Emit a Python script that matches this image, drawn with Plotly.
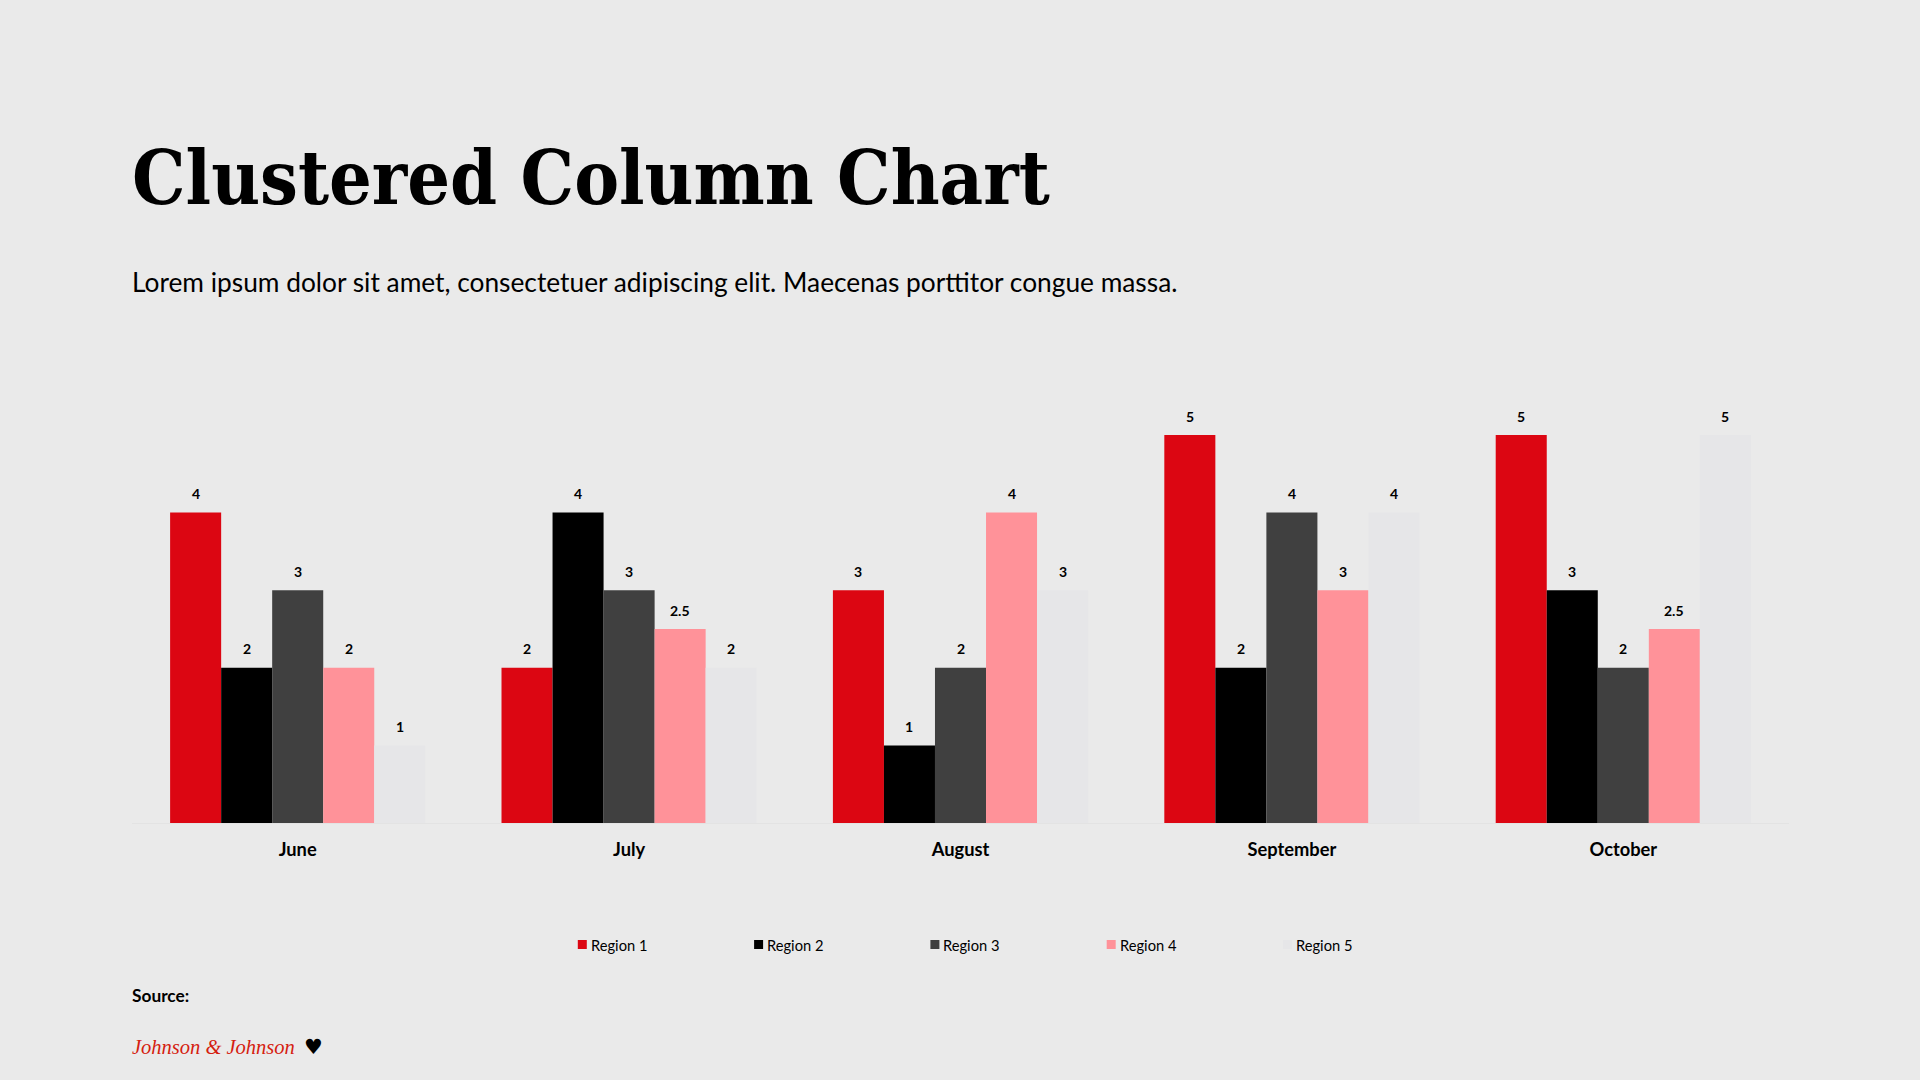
import plotly.graph_objects as go

months = ["June", "July", "August", "September", "October"]
regions = ["Region 1", "Region 2", "Region 3", "Region 4", "Region 5"]
region_1 = [4, 2, 3, 5, 5]
region_2 = [2, 4, 1, 2, 3]
region_3 = [3, 3, 2, 4, 2]
region_4 = [2, 2.5, 4, 3, 2.5]
region_5 = [1, 2, 3, 4, 5]
series = [region_1, region_2, region_3, region_4, region_5]
colors = ["#DC0612", "#000000", "#404040", "#FF9299", "#E6E6E8"]

W, H = 1920, 1080
BG = "#EAEAEA"
BODY = "Lato"
BARGAP = 0.23
LEFT, RIGHT = 131.7, 1788.7
BASE, TOP = 823.0, 435.0
YMAX = 5.0

fig = go.Figure()
annotations = []
shapes = []
bw = (1 - BARGAP) / len(series)
for j, (name, vals, col) in enumerate(zip(regions, series, colors)):
    fig.add_trace(go.Bar(name=name, x=months, y=vals, marker=dict(color=col, line=dict(width=0)),
                         showlegend=False))
    for i, v in enumerate(vals):
        annotations.append(dict(x=i + (j - 2) * bw, y=v, xref="x", yref="y", text=f"<b>{v}</b>",
                                showarrow=False, yshift=19, yanchor="middle",
                                font=dict(family=BODY, size=14, color="#000000")))

# legend row
LEG_X0, LEG_STEP, LEG_Y, KEY = 577.5, 176.3, 944.5, 9.0
for j, (name, col) in enumerate(zip(regions, colors)):
    x0 = LEG_X0 + j * LEG_STEP
    shapes.append(dict(type="rect", xref="paper", yref="paper", line=dict(width=0), fillcolor=col,
                       x0=(x0 - LEFT) / (RIGHT - LEFT), x1=(x0 + KEY - LEFT) / (RIGHT - LEFT),
                       y0=(BASE - LEG_Y - KEY / 2) / (BASE - TOP), y1=(BASE - LEG_Y + KEY / 2) / (BASE - TOP)))
    annotations.append(dict(x=(x0 + KEY + 2 - LEFT) / (RIGHT - LEFT), y=(BASE - LEG_Y) / (BASE - TOP),
                            xref="paper", yref="paper", xanchor="left", yanchor="middle", showarrow=False,
                            text=name, font=dict(family=BODY, size=14.7, color="#000000")))


def page_text(x, y, text, family, size, color="#000000"):
    annotations.append(dict(x=(x - LEFT) / (RIGHT - LEFT), y=(BASE - y) / (BASE - TOP), xref="paper", yref="paper",
                            xanchor="left", yanchor="middle", showarrow=False, text=text,
                            font=dict(family=family, size=size, color=color), borderpad=0))


page_text(131, 178, "<b>Clustered Column Chart</b>", "DejaVu Serif Condensed", 74.8)
page_text(131, 281.5, "Lorem ipsum dolor sit amet, consectetuer adipiscing elit. Maecenas porttitor congue massa.",
          BODY, 26.3)
page_text(131, 995, "<b>Source:</b>", BODY, 17.3)
page_text(131, 1047, "<i>Johnson &amp; Johnson</i>", "Liberation Serif", 20.5, color="#D5200F")
page_text(303, 1047, "♥", "DejaVu Sans", 21)

fig.update_layout(
    width=W, height=H, autosize=False, paper_bgcolor=BG, plot_bgcolor=BG,
    margin=dict(l=LEFT, r=W - RIGHT, t=TOP, b=H - BASE, pad=0),
    barmode="group", bargap=BARGAP, bargroupgap=0, showlegend=False,
    annotations=annotations, shapes=shapes,
    xaxis=dict(type="category", showline=True, linecolor="#E3E3E3", linewidth=1, showgrid=False, ticks="",
               tickfont=dict(family=BODY, size=18.3, color="#000000"), ticklabelstandoff=10,
               tickvals=months, ticktext=[f"<b>{m}</b>" for m in months], zeroline=False),
    yaxis=dict(range=[0, YMAX], visible=False, showgrid=False, zeroline=False),
)
fig.write_html("out.html", config={"displayModeBar": False},
               post_script="document.body.style.margin='0';document.documentElement.style.overflow='hidden';")
